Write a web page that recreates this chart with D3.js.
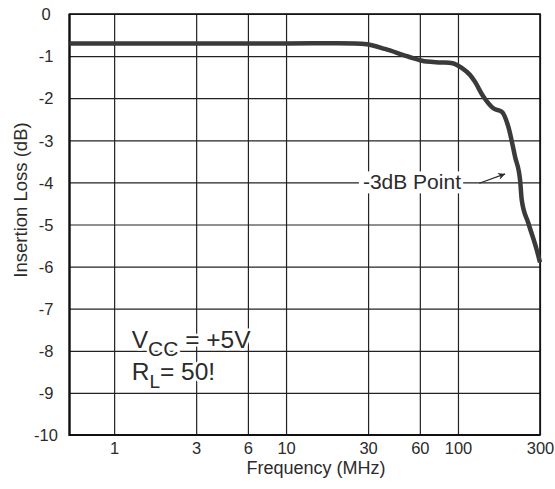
<!DOCTYPE html>
<html>
<head>
<meta charset="utf-8">
<script src="https://cdn.jsdelivr.net/npm/d3@7"></script>
<style>
  body { margin: 0; background: #fff; }
  svg text { font-family: "Liberation Sans", Arial, Helvetica, sans-serif; fill: #2b2b2b; }
</style>
</head>
<body>
<svg id="chart" width="555" height="489"></svg>
<script>
// insertion loss vs frequency
var freq = [0.55, 10, 20, 25, 29.5, 37.6, 51.2, 65.8, 80, 93, 105, 117.6, 125, 140.5, 160.6, 179.8, 196.4, 214.8, 229.7, 235, 256.8, 287, 300];
var loss = [-0.7, -0.7, -0.695, -0.7, -0.72, -0.83, -1.01, -1.13, -1.15, -1.17, -1.28, -1.45, -1.6, -1.96, -2.24, -2.32, -2.68, -3.39, -3.94, -4.42, -4.97, -5.6, -5.9];

var xTicks = [1, 3, 6, 10, 30, 60, 100, 300];
var yTicks = [0, -1, -2, -3, -4, -5, -6, -7, -8, -9, -10];

var g = {};
g.margin = {top: 14, left: 69.5};
g.width = 470.5;
g.height = 421;
g.svg = d3.select("#chart");

var x = d3.scaleLog().domain([0.55, 300]).range([0, g.width]);
var y = d3.scaleLinear().domain([-10, 0]).range([g.height, 0]);

var grp = g.svg.append("g")
    .attr("transform", "translate(" + g.margin.left + "," + g.margin.top + ")");

// plain hyphen like the original, not the unicode minus
function plain(d) { return String(d); }

// grid + tick labels through the axes
var xAxis = grp.append("g")
    .attr("transform", "translate(0," + g.height + ")")
    .call(d3.axisBottom(x).tickValues(xTicks).tickSize(-g.height).tickPadding(7).tickFormat(plain));

var yAxis = grp.append("g")
    .call(d3.axisLeft(y).tickValues(yTicks).tickSize(-g.width).tickPadding(8).tickFormat(plain));

[xAxis, yAxis].forEach(function(a) {
    a.select(".domain").remove();
    a.selectAll(".tick line").attr("stroke", "#222").attr("stroke-width", 1.2);
    a.selectAll(".tick text").attr("font-size", 16.5).attr("fill", "#2b2b2b");
});
xAxis.selectAll(".tick text").attr("dy", "0.71em");
yAxis.selectAll(".tick text")
    .attr("text-anchor", "middle")
    .attr("x", -23.5)
    .attr("dy", "0.35em");

// frame
grp.append("rect")
    .attr("width", g.width)
    .attr("height", g.height)
    .attr("fill", "none")
    .attr("stroke", "#111")
    .attr("stroke-width", 1.6);
grp.append("path")
    .attr("d", "M0,0V" + g.height + "H" + g.width)
    .attr("fill", "none")
    .attr("stroke", "#111")
    .attr("stroke-width", 2.2);

// the curve
var line = d3.line()
    .x(function(d) { return x(d[0]); })
    .y(function(d) { return y(d[1]); })
    .curve(d3.curveMonotoneX);

grp.append("path")
    .datum(d3.zip(freq, loss))
    .attr("d", line)
    .attr("fill", "none")
    .attr("stroke", "#3a3a3a")
    .attr("stroke-width", 4.5)
    .attr("stroke-linejoin", "round");

// -3dB annotation, white box knocks out the grid
var note = grp.append("g");
var noteText = note.append("text")
    .attr("x", x(28))
    .attr("y", y(-4))
    .attr("dy", 7)
    .attr("font-size", 21)
    .text("-3dB Point");
var bb = noteText.node().getBBox();
note.insert("rect", "text")
    .attr("x", bb.x - 4)
    .attr("y", y(-4) - 11)
    .attr("width", bb.width + 6)
    .attr("height", 22)
    .attr("fill", "#fff");

g.svg.append("defs").append("marker")
    .attr("id", "head")
    .attr("viewBox", "0 0 10 10")
    .attr("refX", 10).attr("refY", 5)
    .attr("markerWidth", 13).attr("markerHeight", 7)
    .attr("markerUnits", "userSpaceOnUse")
    .attr("orient", "auto")
  .append("path")
    .attr("d", "M0,0L10,5L0,10L3,5Z")
    .attr("fill", "#2b2b2b");

grp.append("line")
    .attr("x1", x(133)).attr("y1", y(-4.02))
    .attr("x2", x(188)).attr("y2", y(-3.8))
    .attr("stroke", "#2b2b2b")
    .attr("stroke-width", 1.3)
    .attr("marker-end", "url(#head)");

// operating conditions
var cond = grp.append("g")
    .attr("font-size", 24.5)
    .attr("stroke", "#fff")
    .attr("stroke-width", 5)
    .attr("stroke-linejoin", "round")
    .style("paint-order", "stroke");

var t1 = cond.append("text").attr("x", x(1.265)).attr("y", y(-8) - 2.5);
t1.append("tspan").text("V");
t1.append("tspan").attr("font-size", 21).attr("dy", 8).text("CC");
t1.append("tspan").attr("dy", -8).text(" = +5V");

var t2 = cond.append("text").attr("x", x(1.265)).attr("y", y(-8) + 29);
t2.append("tspan").text("R");
t2.append("tspan").attr("font-size", 19).attr("dy", 8).text("L");
t2.append("tspan").attr("dy", -8).text("= 50!");

// axis titles
g.svg.append("text")
    .attr("x", 316)
    .attr("y", 474)
    .attr("text-anchor", "middle")
    .attr("font-size", 18)
    .text("Frequency (MHz)");

g.svg.append("text")
    .attr("transform", "translate(26.5,200) rotate(-90)")
    .attr("text-anchor", "middle")
    .attr("font-size", 18.5)
    .text("Insertion Loss (dB)");
</script>
</body>
</html>
